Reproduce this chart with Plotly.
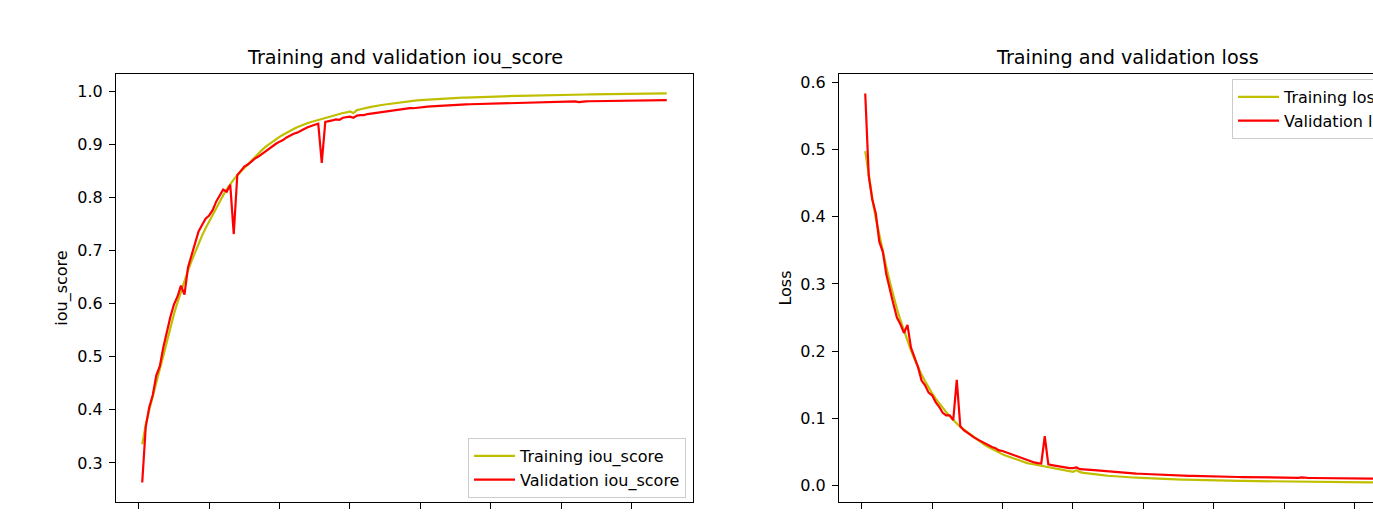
import plotly.graph_objects as go

epochs = list(range(1, 151))

train_iou = [
    0.335, 0.372, 0.400, 0.427, 0.452, 0.477, 0.502, 0.530, 0.556, 0.580,
    0.602, 0.623, 0.643, 0.662, 0.680, 0.697, 0.713, 0.728, 0.742, 0.755,
    0.768, 0.781, 0.793, 0.804, 0.815, 0.825, 0.834, 0.842, 0.849, 0.856,
    0.863, 0.870, 0.877, 0.883, 0.889, 0.895, 0.900, 0.905, 0.910, 0.914,
    0.918, 0.922, 0.926, 0.929, 0.932, 0.935, 0.938, 0.940, 0.942, 0.944,
    0.946, 0.948, 0.950, 0.952, 0.954, 0.955, 0.957, 0.959, 0.960, 0.962,
    0.959, 0.9645, 0.966, 0.968, 0.969, 0.9705, 0.972, 0.973, 0.974, 0.975,
    0.976, 0.977, 0.978, 0.979, 0.980, 0.9807, 0.9814, 0.982, 0.9826, 0.9831,
    0.9836, 0.9841, 0.9846, 0.985, 0.9854, 0.9858, 0.9862, 0.9866, 0.9869, 0.9872,
    0.9875, 0.9878, 0.9881, 0.9884, 0.9886, 0.9889, 0.9891, 0.9893, 0.9895, 0.9897,
    0.9899, 0.9901, 0.9903, 0.9905, 0.9907, 0.9909, 0.9911, 0.9912, 0.9914, 0.9916,
    0.9917, 0.9919, 0.9920, 0.9922, 0.9923, 0.9925, 0.9926, 0.9927, 0.9929, 0.9930,
    0.9931, 0.9932, 0.9933, 0.9935, 0.9936, 0.9937, 0.9938, 0.9939, 0.9940, 0.9941,
    0.9942, 0.9943, 0.9944, 0.9945, 0.9946, 0.9947, 0.9948, 0.9949, 0.9950, 0.9950,
    0.9951, 0.9952, 0.9953, 0.9954, 0.9954, 0.9955, 0.9956, 0.9956, 0.9957, 0.9958,
]

val_iou = [
    0.263, 0.368, 0.405, 0.428, 0.465, 0.482, 0.518, 0.548, 0.575, 0.598,
    0.613, 0.634, 0.617, 0.668, 0.690, 0.712, 0.736, 0.748, 0.760, 0.766,
    0.776, 0.792, 0.804, 0.815, 0.811, 0.824, 0.731, 0.842, 0.850, 0.858,
    0.862, 0.868, 0.873, 0.877, 0.882, 0.887, 0.891, 0.897, 0.901, 0.905,
    0.908, 0.913, 0.917, 0.920, 0.922, 0.926, 0.929, 0.932, 0.935, 0.937,
    0.939, 0.865, 0.942, 0.943, 0.945, 0.947, 0.946, 0.950, 0.951, 0.952,
    0.950, 0.954, 0.955, 0.955, 0.957, 0.958, 0.958, 0.960, 0.961, 0.962,
    0.963, 0.964, 0.965, 0.966, 0.967, 0.967, 0.968, 0.968, 0.969, 0.970,
    0.9705, 0.971, 0.9715, 0.972, 0.9722, 0.9728, 0.9733, 0.9737, 0.974, 0.9743,
    0.9746, 0.9749, 0.9752, 0.9755, 0.9757, 0.976, 0.9763, 0.9765, 0.9768, 0.977,
    0.9772, 0.9774, 0.9776, 0.9778, 0.978, 0.9782, 0.9784, 0.9786, 0.9787, 0.9789,
    0.979, 0.9792, 0.9793, 0.9795, 0.9796, 0.9797, 0.9799, 0.98, 0.9801, 0.9803,
    0.9804, 0.9805, 0.9806, 0.9807, 0.9796, 0.9809, 0.981, 0.9811, 0.9812, 0.9813,
    0.9814, 0.9815, 0.9816, 0.9817, 0.9818, 0.9819, 0.982, 0.9821, 0.9822, 0.9823,
    0.9824, 0.9825, 0.9826, 0.9827, 0.9828, 0.9829, 0.983, 0.9831, 0.9832, 0.9833,
]

train_loss = [
    0.498, 0.460, 0.428, 0.398, 0.372, 0.348, 0.325, 0.303, 0.282, 0.263,
    0.246, 0.230, 0.215, 0.201, 0.188, 0.176, 0.165, 0.155, 0.145, 0.137,
    0.129, 0.122, 0.115, 0.109, 0.103, 0.097, 0.092, 0.087, 0.083, 0.079,
    0.075, 0.071, 0.067, 0.063, 0.060, 0.057, 0.054, 0.051, 0.048, 0.046,
    0.044, 0.042, 0.040, 0.038, 0.036, 0.035, 0.033, 0.032, 0.031, 0.029,
    0.028, 0.027, 0.026, 0.025, 0.024, 0.023, 0.022, 0.021, 0.0205, 0.020,
    0.0225, 0.0195, 0.0185, 0.0177, 0.0170, 0.0163, 0.0157, 0.0151, 0.0146, 0.0141,
    0.0136, 0.0132, 0.0128, 0.0124, 0.0121, 0.0118, 0.0115, 0.0112, 0.0109, 0.0106,
    0.0104, 0.0101, 0.0099, 0.0097, 0.0095, 0.0093, 0.0091, 0.0089, 0.0087, 0.0086,
    0.0084, 0.0083, 0.0081, 0.0080, 0.0078, 0.0077, 0.0076, 0.0074, 0.0073, 0.0072,
    0.0071, 0.0070, 0.0069, 0.0068, 0.0067, 0.0066, 0.0065, 0.0064, 0.0063, 0.0062,
    0.0061, 0.0060, 0.0059, 0.0059, 0.0058, 0.0057, 0.0056, 0.0056, 0.0055, 0.0054,
    0.0054, 0.0053, 0.0052, 0.0052, 0.0051, 0.0051, 0.0050, 0.0049, 0.0049, 0.0048,
    0.0048, 0.0047, 0.0047, 0.0046, 0.0046, 0.0045, 0.0045, 0.0044, 0.0044, 0.0044,
    0.0043, 0.0043, 0.0042, 0.0042, 0.0042, 0.0041, 0.0041, 0.0040, 0.0040, 0.0040,
]

val_loss = [
    0.584, 0.461, 0.426, 0.405, 0.363, 0.348, 0.314, 0.290, 0.270, 0.250,
    0.240, 0.227, 0.239, 0.205, 0.191, 0.176, 0.156, 0.149, 0.138, 0.134,
    0.124, 0.117, 0.108, 0.104, 0.104, 0.097, 0.157, 0.088, 0.082, 0.078,
    0.075, 0.071, 0.068, 0.065, 0.062, 0.060, 0.057, 0.055, 0.052, 0.051,
    0.049, 0.047, 0.045, 0.043, 0.041, 0.039, 0.037, 0.035, 0.034, 0.033,
    0.0325, 0.073, 0.031, 0.030, 0.029, 0.0275, 0.027, 0.026, 0.0255, 0.0255,
    0.0265, 0.024, 0.024, 0.0235, 0.023, 0.0225, 0.022, 0.0215, 0.021, 0.0205,
    0.020, 0.0195, 0.019, 0.0187, 0.0183, 0.018, 0.0177, 0.0174, 0.0171, 0.0168,
    0.0165, 0.0163, 0.016, 0.0158, 0.0156, 0.0154, 0.0152, 0.015, 0.0148, 0.0146,
    0.0144, 0.0142, 0.014, 0.0139, 0.0137, 0.0136, 0.0134, 0.0133, 0.0131, 0.013,
    0.0129, 0.0128, 0.0127, 0.0126, 0.0125, 0.0124, 0.0123, 0.0122, 0.0121, 0.012,
    0.0119, 0.0118, 0.0117, 0.0116, 0.0116, 0.0115, 0.0114, 0.0113, 0.0113, 0.0112,
    0.0111, 0.0111, 0.011, 0.011, 0.0118, 0.0109, 0.0108, 0.0108, 0.0107, 0.0107,
    0.0106, 0.0106, 0.0105, 0.0105, 0.0104, 0.0104, 0.0103, 0.0103, 0.0102, 0.0102,
    0.0101, 0.0101, 0.0100, 0.0100, 0.0099, 0.0099, 0.0098, 0.0098, 0.0097, 0.0097,
]

x_ticks = [0, 20, 40, 60, 80, 100, 120, 140]
iou_ticks = [0.3, 0.4, 0.5, 0.6, 0.7, 0.8, 0.9, 1.0]
loss_ticks = [0.0, 0.1, 0.2, 0.3, 0.4, 0.5, 0.6]

TRAIN_COLOR = "#bfbf00"
VAL_COLOR = "#ff0000"
FONT = "DejaVu Sans"
FS = 16
TITLE_FS = 19.2
LW = 2.2


def padded(lo, hi, frac=0.05):
    span = hi - lo
    return [lo - frac * span, hi + frac * span]


fig = go.Figure()

fig.add_trace(go.Scatter(x=epochs, y=train_iou, mode="lines", name="Training iou_score",
                         line=dict(color=TRAIN_COLOR, width=LW), xaxis="x", yaxis="y",
                         legend="legend", legendgroup="a"))
fig.add_trace(go.Scatter(x=epochs, y=val_iou, mode="lines", name="Validation iou_score",
                         line=dict(color=VAL_COLOR, width=LW), xaxis="x", yaxis="y",
                         legend="legend", legendgroup="b"))
fig.add_trace(go.Scatter(x=epochs, y=train_loss, mode="lines", name="Training loss",
                         line=dict(color=TRAIN_COLOR, width=LW), xaxis="x2", yaxis="y2",
                         legend="legend2", legendgroup="c"))
fig.add_trace(go.Scatter(x=epochs, y=val_loss, mode="lines", name="Validation loss",
                         line=dict(color=VAL_COLOR, width=LW), xaxis="x2", yaxis="y2",
                         legend="legend2", legendgroup="d"))

W, H = 1460, 545
L, R, T, B = 116, 44, 74, 43
plot_w = W - L - R
plot_h = H - T - B
left_w = 577
right_start = 839 - L

axis_common = dict(
    showline=True, mirror=True, linecolor="black", linewidth=1,
    ticks="outside", ticklen=6, tickwidth=1, tickcolor="black",
    showgrid=False, zeroline=False,
    tickfont=dict(family=FONT, size=FS, color="black"),
)

xr = padded(min(epochs), max(epochs))
all_iou = train_iou + val_iou
all_loss = train_loss + val_loss

legend_common = dict(
    font=dict(family=FONT, size=FS, color="black"),
    bgcolor="rgba(255,255,255,0.8)", bordercolor="#cccccc", borderwidth=1,
    traceorder="grouped", tracegroupgap=0, itemwidth=41,
)

fig.update_layout(
    width=W, height=H,
    margin=dict(l=L, r=R, t=T, b=B, pad=0),
    plot_bgcolor="white", paper_bgcolor="white",
    font=dict(family=FONT, size=FS, color="black"),
    xaxis=dict(domain=[0, left_w / plot_w], range=xr, tickvals=x_ticks, showticklabels=False,
               anchor="y", **axis_common),
    yaxis=dict(domain=[0, 1], range=padded(min(all_iou), max(all_iou)), tickvals=iou_ticks,
               ticktext=[f"{v:.1f}" for v in iou_ticks], anchor="x", ticklabelstandoff=3,
               title=dict(text="iou_score", font=dict(family=FONT, size=FS), standoff=5),
               **axis_common),
    xaxis2=dict(domain=[right_start / plot_w, 1], range=xr, tickvals=x_ticks, showticklabels=False,
                anchor="y2", **axis_common),
    yaxis2=dict(domain=[0, 1], range=padded(min(all_loss), max(all_loss)), tickvals=loss_ticks,
                ticktext=[f"{v:.1f}" for v in loss_ticks], anchor="x2", ticklabelstandoff=3,
                title=dict(text="Loss", font=dict(family=FONT, size=FS), standoff=4),
                **axis_common),
    legend=dict(x=(686 - L) / plot_w, y=(502 - 498) / plot_h, xanchor="right", yanchor="bottom",
                **legend_common),
    legend2=dict(x=(1232 - L) / plot_w, y=(502 - 79) / plot_h, xanchor="left", yanchor="top",
                 **legend_common),
    annotations=[
        dict(text="Training and validation iou_score", xref="x domain", yref="y domain",
             x=0.5, y=1, xanchor="center", yanchor="bottom", yshift=3, showarrow=False,
             font=dict(family=FONT, size=TITLE_FS, color="black")),
        dict(text="Training and validation loss", xref="x2 domain", yref="y2 domain",
             x=0.5, y=1, xanchor="center", yanchor="bottom", yshift=3, showarrow=False,
             font=dict(family=FONT, size=TITLE_FS, color="black")),
    ],
)

fig.write_html(
    "out.html",
    config={"displayModeBar": False},
    post_script="document.body.style.margin='0';document.body.style.overflow='hidden';",
)
